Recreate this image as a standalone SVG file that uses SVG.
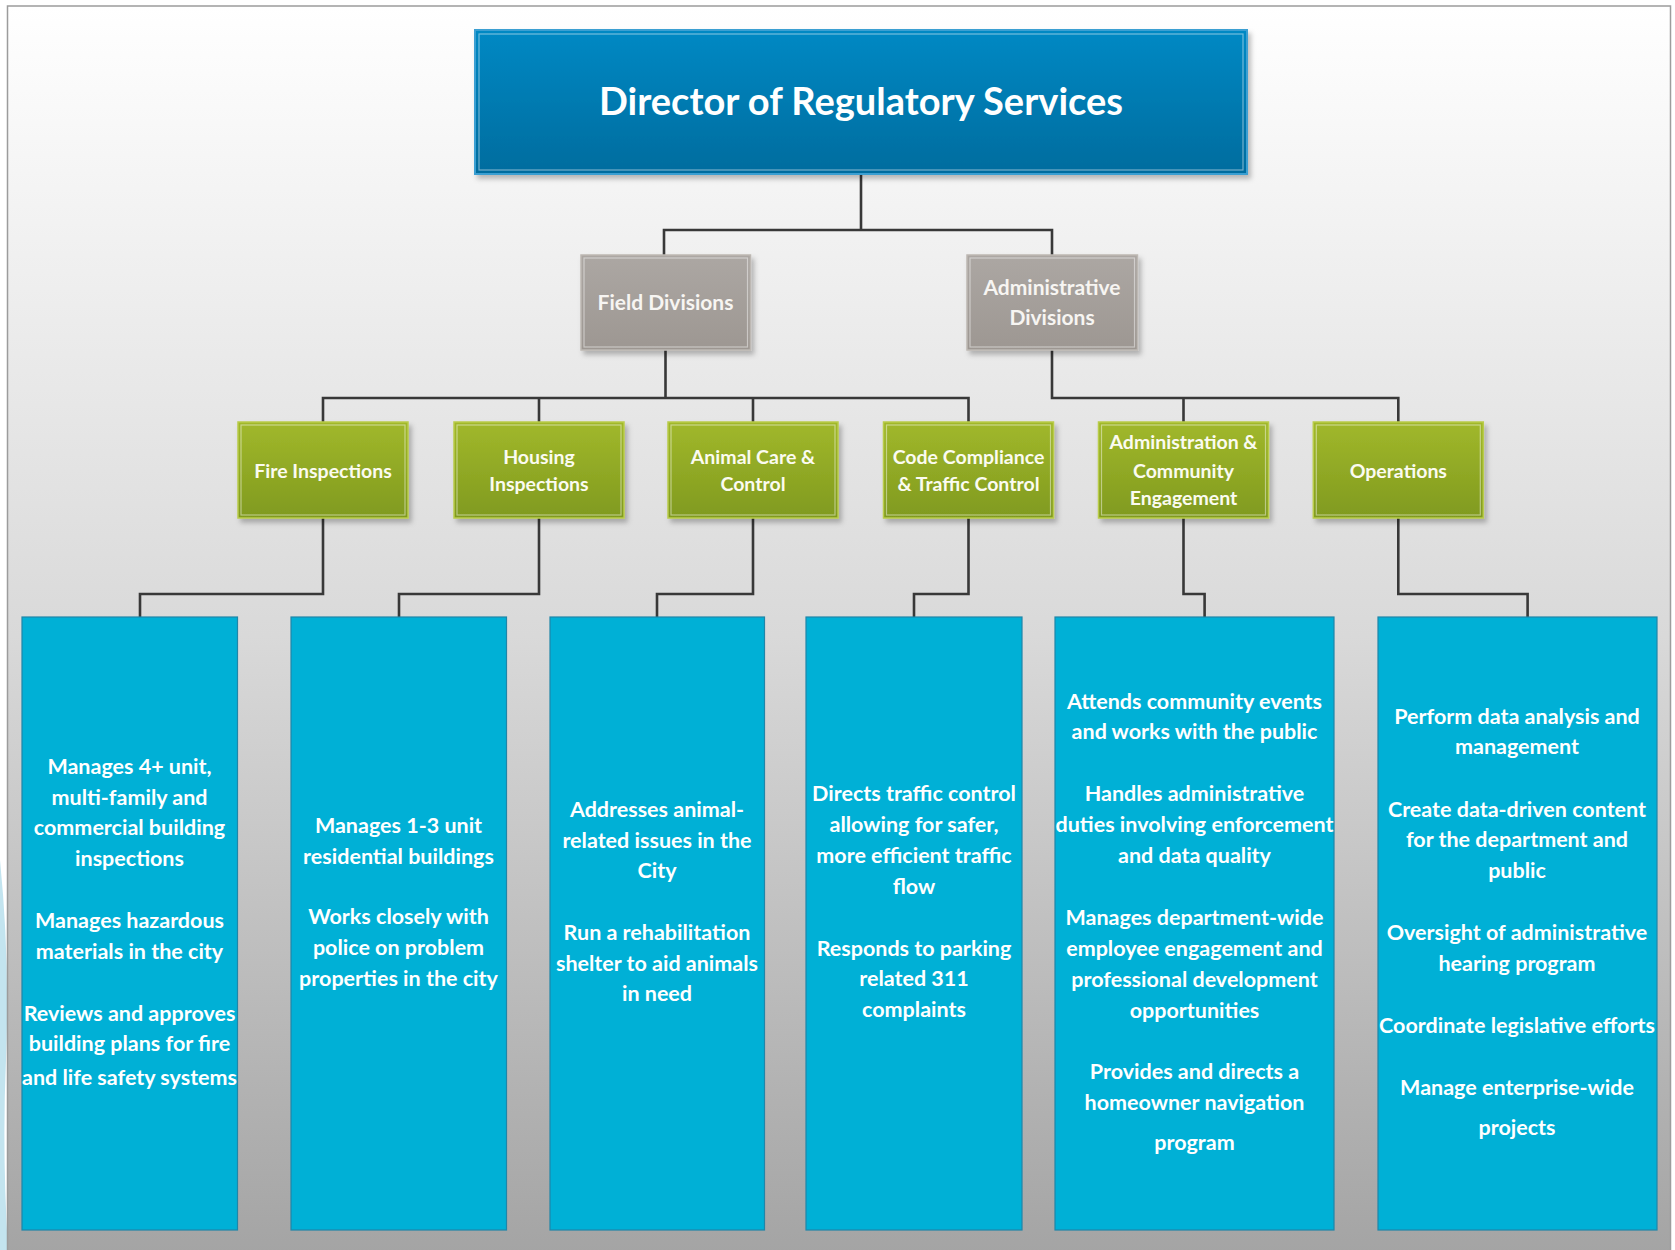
<svg xmlns="http://www.w3.org/2000/svg" width="1675" height="1250" viewBox="0 0 1675 1250">
<defs>
<linearGradient id="bg" x1="0" y1="0" x2="0" y2="1">
<stop offset="0" stop-color="#ffffff"/>
<stop offset="0.5" stop-color="#d9d9d9"/>
<stop offset="1" stop-color="#a3a3a3"/>
</linearGradient>
<linearGradient id="gDir" x1="0" y1="0" x2="0" y2="1">
<stop offset="0" stop-color="#0489c4"/>
<stop offset="1" stop-color="#006c9e"/>
</linearGradient>
<linearGradient id="gGray" x1="0" y1="0" x2="0" y2="1">
<stop offset="0" stop-color="#aca7a3"/>
<stop offset="1" stop-color="#9d9792"/>
</linearGradient>
<linearGradient id="gGreen" x1="0" y1="0" x2="0" y2="1">
<stop offset="0" stop-color="#a1b82b"/>
<stop offset="1" stop-color="#809a1f"/>
</linearGradient>
<filter id="sh" x="-10%" y="-10%" width="130%" height="130%">
<feDropShadow dx="3" dy="4" stdDeviation="2.5" flood-color="#000" flood-opacity="0.25"/>
</filter>
</defs>
<style>
text{font-family:Lato,"Liberation Sans",sans-serif;font-weight:bold;fill:#ffffff;text-anchor:middle}
.dir{font-size:38px}
.gr{font-size:21px;fill:#f7f5f2}
.gn{font-size:19.5px;fill:#fbfbf0}
.bl{font-size:21.5px}
.inner{fill:none;stroke:#ffffff;stroke-opacity:0.45;stroke-width:1.2}
.green{fill:url(#gGreen);stroke:#b9cc4a;stroke-width:1.5}
.gray{fill:url(#gGray);stroke:#bdb8b3;stroke-width:1.5}
.blue{fill:#00b0d6;stroke:#1f86a8;stroke-width:1.2}
.conn{fill:none;stroke:#383838;stroke-width:2.6}
</style>
<rect x="0" y="0" width="1675" height="1250" fill="#ffffff"/>
<path d="M0 860 Q10 960 6 1060 Q2 1150 8 1250 L0 1250 Z" fill="#c3e4ef"/>
<rect x="7.5" y="6" width="1663" height="1260" fill="url(#bg)" stroke="#9c9c9c" stroke-width="1.5"/>

<g id="connectors">
<path class="conn" d="M861 174 V230 M664 255 V230 H1052 V255"/>
<path class="conn" d="M665.5 350 V398 M323 422 V398 H968.5 V422 M539 398 V422 M753 398 V422"/>
<path class="conn" d="M1052 350 V398 H1398.3 V422 M1183.5 398 V422"/>
<path class="conn" d="M323 518 V594 H140 V617"/>
<path class="conn" d="M539 518 V594 H399 V617"/>
<path class="conn" d="M753 518 V594 H657 V617"/>
<path class="conn" d="M968.5 518 V594 H914 V617"/>
<path class="conn" d="M1183.5 518 V594 H1204.6 V617"/>
<path class="conn" d="M1398.3 518 V594 H1527.6 V617"/>
</g>

<g id="director">
<rect x="475" y="30" width="772" height="144" fill="url(#gDir)" stroke="#3a9fd2" stroke-width="2" filter="url(#sh)"/>
<rect class="inner" x="479" y="34" width="764" height="136"/>
<text class="dir" x="861" y="115">Director of Regulatory Services</text>
</g>

<g id="field-divisions">
<rect class="gray" x="581" y="255" width="169.5" height="95" filter="url(#sh)"/>
<rect class="inner" x="584" y="258" width="163.5" height="89"/>
<text class="gr" x="665.5" y="309.5">Field Divisions</text>
</g>
<g id="administrative-divisions">
<rect class="gray" x="967" y="255" width="170.5" height="95" filter="url(#sh)"/>
<rect class="inner" x="970" y="258" width="164.5" height="89"/>
<text class="gr" x="1052" y="295">Administrative</text>
<text class="gr" x="1052" y="325">Divisions</text>
</g>

<g id="fire-inspections">
<rect class="green" x="238" y="422" width="170" height="96" filter="url(#sh)"/>
<rect class="inner" x="241" y="425" width="164" height="90"/>
<text class="gn" x="323" y="478">Fire Inspections</text>
</g>
<g id="housing-inspections">
<rect class="green" x="454" y="422" width="170" height="96" filter="url(#sh)"/>
<rect class="inner" x="457" y="425" width="164" height="90"/>
<text class="gn" x="539" y="464">Housing</text>
<text class="gn" x="539" y="491">Inspections</text>
</g>
<g id="animal-care">
<rect class="green" x="668" y="422" width="170" height="96" filter="url(#sh)"/>
<rect class="inner" x="671" y="425" width="164" height="90"/>
<text class="gn" x="753" y="464">Animal Care &amp;</text>
<text class="gn" x="753" y="491">Control</text>
</g>
<g id="code-compliance">
<rect class="green" x="883.5" y="422" width="170" height="96" filter="url(#sh)"/>
<rect class="inner" x="886.5" y="425" width="164" height="90"/>
<text class="gn" x="968.5" y="464">Code Compliance</text>
<text class="gn" x="968.5" y="491">&amp; Traffic Control</text>
</g>
<g id="admin-community">
<rect class="green" x="1098.5" y="422" width="170" height="96" filter="url(#sh)"/>
<rect class="inner" x="1101.5" y="425" width="164" height="90"/>
<text class="gn" x="1183.5" y="449">Administration &amp;</text>
<text class="gn" x="1183.5" y="477.5">Community</text>
<text class="gn" x="1183.5" y="505">Engagement</text>
</g>
<g id="operations">
<rect class="green" x="1313.3" y="422" width="170" height="96" filter="url(#sh)"/>
<rect class="inner" x="1316.3" y="425" width="164" height="90"/>
<text class="gn" x="1398.3" y="478">Operations</text>
</g>

<g id="fire-duties">
<rect class="blue" x="22" y="617" width="215.5" height="613"/>
<text class="bl" x="129.5" y="774">Manages 4+ unit,</text>
<text class="bl" x="129.5" y="804.5">multi-family and</text>
<text class="bl" x="129.5" y="835">commercial building</text>
<text class="bl" x="129.5" y="865.5">inspections</text>
<text class="bl" x="129.5" y="928">Manages hazardous</text>
<text class="bl" x="129.5" y="958.5">materials in the city</text>
<text class="bl" x="129.5" y="1021">Reviews and approves</text>
<text class="bl" x="129.5" y="1050.5">building plans for fire</text>
<text class="bl" x="129.5" y="1085">and life safety systems</text>
</g>
<g id="housing-duties">
<rect class="blue" x="291" y="617" width="215.5" height="613"/>
<text class="bl" x="398.5" y="833">Manages 1-3 unit</text>
<text class="bl" x="398.5" y="864">residential buildings</text>
<text class="bl" x="398.5" y="924">Works closely with</text>
<text class="bl" x="398.5" y="955">police on problem</text>
<text class="bl" x="398.5" y="986">properties in the city</text>
</g>
<g id="animal-duties">
<rect class="blue" x="550" y="617" width="214.5" height="613"/>
<text class="bl" x="657" y="817">Addresses animal-</text>
<text class="bl" x="657" y="847.5">related issues in the</text>
<text class="bl" x="657" y="878">City</text>
<text class="bl" x="657" y="940">Run a rehabilitation</text>
<text class="bl" x="657" y="970.5">shelter to aid animals</text>
<text class="bl" x="657" y="1001">in need</text>
</g>
<g id="code-duties">
<rect class="blue" x="806" y="617" width="216" height="613"/>
<text class="bl" x="914" y="800.5">Directs traffic control</text>
<text class="bl" x="914" y="831.5">allowing for safer,</text>
<text class="bl" x="914" y="863">more efficient traffic</text>
<text class="bl" x="914" y="893.5">flow</text>
<text class="bl" x="914" y="955.5">Responds to parking</text>
<text class="bl" x="914" y="986">related 311</text>
<text class="bl" x="914" y="1017">complaints</text>
</g>
<g id="admin-duties">
<rect class="blue" x="1055" y="617" width="279" height="613"/>
<text class="bl" x="1194.5" y="709">Attends community events</text>
<text class="bl" x="1194.5" y="739">and works with the public</text>
<text class="bl" x="1194.5" y="801">Handles administrative</text>
<text class="bl" x="1194.5" y="832">duties involving enforcement</text>
<text class="bl" x="1194.5" y="863">and data quality</text>
<text class="bl" x="1194.5" y="925">Manages department-wide</text>
<text class="bl" x="1194.5" y="955.5">employee engagement and</text>
<text class="bl" x="1194.5" y="986.5">professional development</text>
<text class="bl" x="1194.5" y="1017.5">opportunities</text>
<text class="bl" x="1194.5" y="1079">Provides and directs a</text>
<text class="bl" x="1194.5" y="1110">homeowner navigation</text>
<text class="bl" x="1194.5" y="1150">program</text>
</g>
<g id="operations-duties">
<rect class="blue" x="1378" y="617" width="279" height="613"/>
<text class="bl" x="1517" y="723.5">Perform data analysis and</text>
<text class="bl" x="1517" y="754">management</text>
<text class="bl" x="1517" y="816.5">Create data-driven content</text>
<text class="bl" x="1517" y="847">for the department and</text>
<text class="bl" x="1517" y="877.5">public</text>
<text class="bl" x="1517" y="940">Oversight of administrative</text>
<text class="bl" x="1517" y="971">hearing program</text>
<text class="bl" x="1517" y="1033">Coordinate legislative efforts</text>
<text class="bl" x="1517" y="1094.5">Manage enterprise-wide</text>
<text class="bl" x="1517" y="1135">projects</text>
</g>
</svg>
